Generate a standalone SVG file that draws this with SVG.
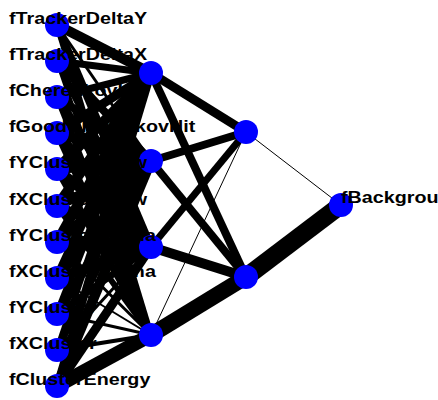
<svg xmlns="http://www.w3.org/2000/svg" width="438" height="400" viewBox="0 0 438 400">
<style>
.lbl{font-family:"Liberation Sans",Arial,sans-serif;font-weight:bold;font-size:17px;fill:#000}
.c line{stroke:#000;stroke-linecap:butt}
.n{fill:#0000ff}
</style>
<rect width="438" height="400" fill="#fff"/>
<g id="connectors" class="c">
<line x1="57" y1="25" x2="151" y2="73" stroke-width="10"/>
<line x1="57" y1="25" x2="151" y2="161" stroke-width="3"/>
<line x1="57" y1="25" x2="151" y2="247" stroke-width="8"/>
<line x1="57" y1="25" x2="151" y2="335" stroke-width="6"/>
<line x1="57" y1="61" x2="151" y2="73" stroke-width="7"/>
<line x1="57" y1="61" x2="151" y2="161" stroke-width="8"/>
<line x1="57" y1="61" x2="151" y2="247" stroke-width="7"/>
<line x1="57" y1="61" x2="151" y2="335" stroke-width="4"/>
<line x1="57" y1="97" x2="151" y2="73" stroke-width="7"/>
<line x1="57" y1="97" x2="151" y2="161" stroke-width="8"/>
<line x1="57" y1="97" x2="151" y2="247" stroke-width="9"/>
<line x1="57" y1="97" x2="151" y2="335" stroke-width="6"/>
<line x1="57" y1="133" x2="151" y2="73" stroke-width="9"/>
<line x1="57" y1="133" x2="151" y2="161" stroke-width="10"/>
<line x1="57" y1="133" x2="151" y2="247" stroke-width="10"/>
<line x1="57" y1="133" x2="151" y2="335" stroke-width="7"/>
<line x1="57" y1="169" x2="151" y2="73" stroke-width="10"/>
<line x1="57" y1="169" x2="151" y2="161" stroke-width="10"/>
<line x1="57" y1="169" x2="151" y2="247" stroke-width="10"/>
<line x1="57" y1="169" x2="151" y2="335" stroke-width="7"/>
<line x1="57" y1="206" x2="151" y2="73" stroke-width="10"/>
<line x1="57" y1="206" x2="151" y2="161" stroke-width="10"/>
<line x1="57" y1="206" x2="151" y2="247" stroke-width="10"/>
<line x1="57" y1="206" x2="151" y2="335" stroke-width="6"/>
<line x1="57" y1="242" x2="151" y2="73" stroke-width="10"/>
<line x1="57" y1="242" x2="151" y2="161" stroke-width="10"/>
<line x1="57" y1="242" x2="151" y2="247" stroke-width="10"/>
<line x1="57" y1="242" x2="151" y2="335" stroke-width="3"/>
<line x1="57" y1="278" x2="151" y2="73" stroke-width="9"/>
<line x1="57" y1="278" x2="151" y2="161" stroke-width="10"/>
<line x1="57" y1="278" x2="151" y2="247" stroke-width="9"/>
<line x1="57" y1="278" x2="151" y2="335" stroke-width="2"/>
<line x1="57" y1="314" x2="151" y2="73" stroke-width="7"/>
<line x1="57" y1="314" x2="151" y2="161" stroke-width="9"/>
<line x1="57" y1="314" x2="151" y2="247" stroke-width="7"/>
<line x1="57" y1="314" x2="151" y2="335" stroke-width="3"/>
<line x1="57" y1="350" x2="151" y2="73" stroke-width="6"/>
<line x1="57" y1="350" x2="151" y2="161" stroke-width="7"/>
<line x1="57" y1="350" x2="151" y2="247" stroke-width="3"/>
<line x1="57" y1="350" x2="151" y2="335" stroke-width="4"/>
<line x1="57" y1="386" x2="151" y2="73" stroke-width="8"/>
<line x1="57" y1="386" x2="151" y2="161" stroke-width="10"/>
<line x1="57" y1="386" x2="151" y2="247" stroke-width="9"/>
<line x1="57" y1="386" x2="151" y2="335" stroke-width="14"/>
<line x1="151" y1="73" x2="246" y2="132" stroke-width="9"/>
<line x1="151" y1="73" x2="246" y2="277" stroke-width="8"/>
<line x1="151" y1="161" x2="246" y2="132" stroke-width="8"/>
<line x1="151" y1="161" x2="246" y2="277" stroke-width="8"/>
<line x1="151" y1="247" x2="246" y2="132" stroke-width="7"/>
<line x1="151" y1="247" x2="246" y2="277" stroke-width="10"/>
<line x1="151" y1="335" x2="246" y2="132" stroke-width="1"/>
<line x1="151" y1="335" x2="246" y2="277" stroke-width="16"/>
<line x1="246" y1="132" x2="341" y2="205" stroke-width="1"/>
<line x1="246" y1="277" x2="341" y2="205" stroke-width="18"/>
</g>
<g id="input0"><circle class="n" cx="57" cy="25" r="12"/></g>
<g id="input1"><circle class="n" cx="57" cy="61" r="12"/></g>
<g id="input2"><circle class="n" cx="57" cy="97" r="12"/></g>
<g id="input3"><circle class="n" cx="57" cy="133" r="12"/></g>
<g id="input4"><circle class="n" cx="57" cy="169" r="12"/></g>
<g id="input5"><circle class="n" cx="57" cy="206" r="12"/></g>
<g id="input6"><circle class="n" cx="57" cy="242" r="12"/></g>
<g id="input7"><circle class="n" cx="57" cy="278" r="12"/></g>
<g id="input8"><circle class="n" cx="57" cy="314" r="12"/></g>
<g id="input9"><circle class="n" cx="57" cy="350" r="12"/></g>
<g id="input10"><circle class="n" cx="57" cy="386" r="12"/></g>
<g id="hidden1_0"><circle class="n" cx="151" cy="73" r="12"/></g>
<g id="hidden1_1"><circle class="n" cx="151" cy="161" r="12"/></g>
<g id="hidden1_2"><circle class="n" cx="151" cy="247" r="12"/></g>
<g id="hidden1_3"><circle class="n" cx="151" cy="335" r="12"/></g>
<g id="hidden2_0"><circle class="n" cx="246" cy="132" r="12"/></g>
<g id="hidden2_1"><circle class="n" cx="246" cy="277" r="12"/></g>
<g id="output"><circle class="n" cx="341" cy="205" r="12"/></g>
<g id="labels" transform="scale(1.16,1)">
<text class="lbl" x="7.8" y="24">fTrackerDeltaY</text>
<text class="lbl" x="7.8" y="60">fTrackerDeltaX</text>
<text class="lbl" x="7.8" y="96">fCherenkovHit</text>
<text class="lbl" x="7.8" y="132">fGoodCherenkovHit</text>
<text class="lbl" x="7.8" y="168">fYClusterSkew</text>
<text class="lbl" x="7.8" y="205">fXClusterSkew</text>
<text class="lbl" x="7.8" y="241">fYClusterSigma</text>
<text class="lbl" x="7.8" y="277">fXClusterSigma</text>
<text class="lbl" x="7.8" y="313">fYCluster</text>
<text class="lbl" x="7.8" y="349">fXCluster</text>
<text class="lbl" x="7.8" y="385">fClusterEnergy</text>
<text class="lbl" x="294" y="203.5">fBackground</text>
</g>
</svg>
